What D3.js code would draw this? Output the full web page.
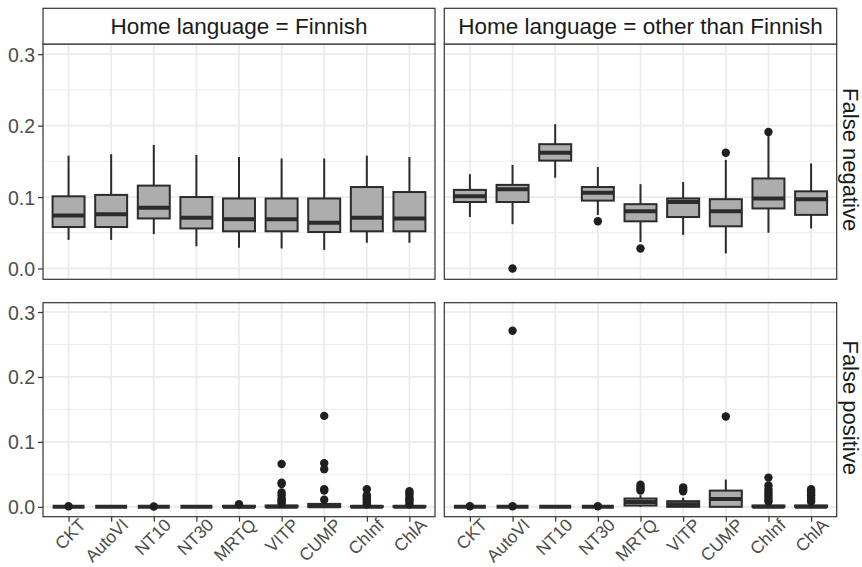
<!DOCTYPE html>
<html><head><meta charset="utf-8">
<script src="https://cdn.jsdelivr.net/npm/d3@7"></script>
<style>
body{margin:0;background:#fff}
svg{display:block}
text{font-family:"Liberation Sans",Arial,Helvetica,sans-serif}
</style>
</head><body>
<svg id="chart" width="862" height="567"></svg>
<script>
// ---------- data ----------
const methods = ["CKT","AutoVI","NT10","NT30","MRTQ","VITP","CUMP","ChInf","ChlA"];
const columnLabels = ["Home language = Finnish","Home language = other than Finnish"];
const rowLabels = ["False negative","False positive"];
const yTicks = [0, 0.1, 0.2, 0.3];
const yMinorTicks = [0.05, 0.15, 0.25];

// five-number summaries: [lower whisker, Q1, median, Q3, upper whisker]
const fnFinnish = [
  [0.040,0.058,0.074,0.101,0.158],
  [0.040,0.058,0.076,0.103,0.160],
  [0.048,0.070,0.085,0.116,0.173],
  [0.031,0.056,0.071,0.100,0.159],
  [0.029,0.052,0.069,0.098,0.156],
  [0.028,0.052,0.069,0.098,0.154],
  [0.026,0.051,0.064,0.098,0.154],
  [0.036,0.052,0.071,0.114,0.158],
  [0.036,0.052,0.070,0.107,0.156]
];
const fnOther = [
  [0.072,0.093,0.101,0.110,0.132],
  [0.062,0.093,0.111,0.117,0.145],
  [0.127,0.151,0.162,0.174,0.202],
  [0.075,0.095,0.106,0.114,0.142],
  [0.037,0.066,0.080,0.090,0.118],
  [0.047,0.072,0.093,0.098,0.121],
  [0.021,0.059,0.080,0.097,0.152],
  [0.050,0.084,0.098,0.126,0.186],
  [0.056,0.075,0.097,0.108,0.147]
];
const fpFinnish = [
  [0,0,0,0,0],
  [0,0,0,0,0],
  [0,0,0,0,0],
  [0,0,0,0,0],
  [0,0,0,0.0015,0.003],
  [0,0,0,0.002,0.004],
  [0,0,0.001,0.0045,0.008],
  [0,0,0,0.001,0.002],
  [0,0,0,0.001,0.002]
];
const fpOther = [
  [0,0,0,0,0],
  [0,0,0,0,0],
  [0,0,0,0,0],
  [0,0,0,0,0],
  [0,0.002,0.0075,0.0128,0.018],
  [0,0,0.004,0.0087,0.014],
  [0,0,0.012,0.025,0.042],
  [0,0,0,0.002,0.004],
  [0,0,0,0.002,0.004]
];

// outliers per method
const fnFinnishOutliers = [[],[],[],[],[],[],[],[],[]];
const fnOtherOutliers = [[],[0.000],[],[0.066],[0.028],[],[0.162],[0.191],[]];
const fpFinnishOutliers = [
  [0.001],[],[0.0005],[],[0.004],
  [0.005,0.008,0.011,0.013,0.018,0.022,0.035,0.037,0.066],
  [0.011,0.025,0.027,0.058,0.067,0.140],
  [0.004,0.007,0.010,0.013,0.016,0.018,0.027],
  [0.004,0.008,0.011,0.013,0.017,0.021,0.024]
];
const fpOtherOutliers = [
  [0.001],[0.001,0.271],[],[0.001],
  [0.025,0.028,0.031,0.034],
  [0.024,0.027,0.030],
  [0.139],
  [0.008,0.011,0.015,0.019,0.023,0.027,0.033,0.045],
  [0.008,0.011,0.014,0.018,0.021,0.024,0.027]
];

const panels = [
  {row:0,col:0,stats:fnFinnish,out:fnFinnishOutliers},
  {row:0,col:1,stats:fnOther,out:fnOtherOutliers},
  {row:1,col:0,stats:fpFinnish,out:fpFinnishOutliers},
  {row:1,col:1,stats:fpOther,out:fpOtherOutliers}
];

// ---------- layout ----------
const colX = [[43,435],[444.3,836.7]];
const rowY = [[44,279.3],[302.7,516.7]];
const stripTop = 8.3;
const yDomain = [-0.0152, 0.3143];

const grid = "#ebebeb", border = "#333333", boxFill = "#adadad", boxLine = "#2b2b2b";
const FONT = "Liberation Sans, Arial, sans-serif";

const svg = d3.select("#chart");

panels.forEach(p => {
  const [x0,x1] = colX[p.col], [y0,y1] = rowY[p.row];
  const x = d3.scalePoint().domain(methods).range([x0,x1]).padding(0.6);
  const step = x.step();
  const y = d3.scaleLinear().domain(yDomain).range([y1,y0]);
  const g = svg.append("g");

  g.append("rect").attr("x",x0).attr("y",y0).attr("width",x1-x0).attr("height",y1-y0).attr("fill","#fff");
  g.selectAll(".ymin").data(yMinorTicks).join("line")
    .attr("x1",x0).attr("x2",x1).attr("y1",d=>y(d)).attr("y2",d=>y(d))
    .attr("stroke",grid).attr("stroke-width",0.9);
  g.selectAll(".ymaj").data(yTicks).join("line")
    .attr("x1",x0).attr("x2",x1).attr("y1",d=>y(d)).attr("y2",d=>y(d))
    .attr("stroke",grid).attr("stroke-width",1.7);
  g.selectAll(".xmaj").data(methods).join("line")
    .attr("x1",d=>x(d)).attr("x2",d=>x(d)).attr("y1",y0).attr("y2",y1)
    .attr("stroke",grid).attr("stroke-width",1.7);

  const bw = step*0.75;
  methods.forEach((m,i) => {
    const s = p.stats[i], cx = x(m);
    g.append("line").attr("x1",cx).attr("x2",cx).attr("y1",y(s[3])).attr("y2",y(s[4]))
      .attr("stroke",boxLine).attr("stroke-width",2);
    g.append("line").attr("x1",cx).attr("x2",cx).attr("y1",y(s[0])).attr("y2",y(s[1]))
      .attr("stroke",boxLine).attr("stroke-width",2);
    g.append("rect").attr("x",cx-bw/2).attr("width",bw)
      .attr("y",y(s[3])).attr("height",Math.max(0,y(s[1])-y(s[3])))
      .attr("fill",boxFill).attr("stroke",boxLine).attr("stroke-width",2);
    g.append("line").attr("x1",cx-bw/2).attr("x2",cx+bw/2).attr("y1",y(s[2])).attr("y2",y(s[2]))
      .attr("stroke",boxLine).attr("stroke-width",4);
    g.selectAll(null).data(p.out[i]).join("circle")
      .attr("cx",cx).attr("cy",d=>y(d)).attr("r",4.2).attr("fill","#1f1f1f");
  });

  g.append("rect").attr("x",x0).attr("y",y0).attr("width",x1-x0).attr("height",y1-y0)
    .attr("fill","none").attr("stroke",border).attr("stroke-width",1.2);

  if (p.col === 0) {
    const ax = g.append("g").attr("transform",`translate(${x0},0)`)
      .call(d3.axisLeft(y).tickValues(yTicks).tickFormat(d3.format(".1f")).tickSizeOuter(0).tickSize(5).tickPadding(3));
    ax.select(".domain").remove();
    ax.selectAll(".tick line").attr("stroke",border).attr("stroke-width",1.2);
    ax.selectAll(".tick text").attr("fill","#4d4d4d").attr("font-size",19.5)
      .attr("font-family",FONT).attr("dy","0.36em");
  }
  if (p.row === 1) {
    const ax = g.append("g").attr("transform",`translate(0,${y1})`)
      .call(d3.axisBottom(x).tickSizeOuter(0).tickSize(5));
    ax.select(".domain").remove();
    ax.selectAll(".tick line").attr("stroke",border).attr("stroke-width",1.2);
    ax.selectAll(".tick text")
      .attr("fill","#4d4d4d").attr("font-size",17.5)
      .attr("font-family",FONT)
      .attr("text-anchor","end")
      .attr("x",0).attr("y",0).attr("dy","0.716em")
      .attr("transform","translate(9,0.5) rotate(-45)");
  }
  if (p.row === 0) {
    g.append("rect").attr("x",x0).attr("y",stripTop).attr("width",x1-x0).attr("height",y0-stripTop)
      .attr("fill","#fff").attr("stroke",border).attr("stroke-width",1.2);
    g.append("text").attr("x",(x0+x1)/2).attr("y",(stripTop+y0)/2).attr("dy","0.36em")
      .attr("text-anchor","middle").attr("font-size",22.5).attr("fill","#1a1a1a")
      .text(columnLabels[p.col]);
  }
  if (p.col === 1) {
    g.append("text").attr("transform",`translate(${x1+14},${(y0+y1)/2 - 2}) rotate(90)`)
      .attr("dy","0.36em").attr("text-anchor","middle").attr("font-size",22).attr("fill","#1a1a1a")
      .text(rowLabels[p.row]);
  }
});
</script>
</body></html>
